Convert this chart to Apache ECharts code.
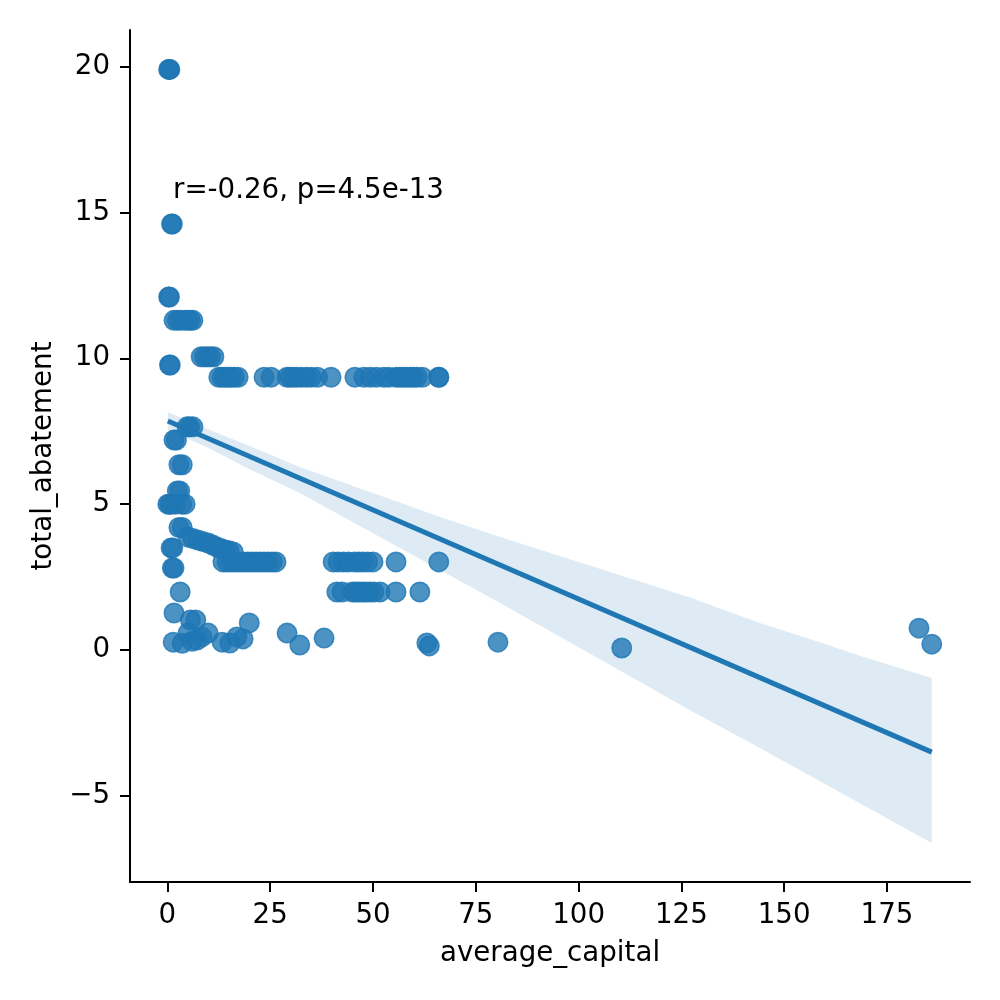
<!DOCTYPE html>
<html>
<head>
<meta charset="utf-8">
<script src="https://cdn.jsdelivr.net/npm/echarts@6/dist/echarts.min.js"></script>
<style>
  html, body { margin: 0; padding: 0; background: #fff; }
  #chart { width: 1000px; height: 1000px; }
</style>
</head>
<body>
<div id="chart"></div>
<script>
// scatter points [average_capital, total_abatement]
var scatterPoints = [
    [0.3, 19.9], [0.45, 19.9], [0.6, 19.9],
    [1.0, 14.6], [1.2, 14.6],
    [0.3, 12.1], [0.5, 12.1],
    [1.6, 11.3], [2.4, 11.3], [3.2, 11.3], [4.2, 11.3], [5.0, 11.3], [5.6, 11.3], [6.2, 11.3],
    [0.5, 9.77], [0.7, 9.77],
    [8.2, 10.05], [9.0, 10.05], [9.8, 10.05], [10.5, 10.05], [11.3, 10.05],
    [12.5, 9.35], [13.3, 9.35], [14.0, 9.35], [14.8, 9.35], [15.5, 9.35], [16.3, 9.35], [17.2, 9.35],
    [23.5, 9.35], [25.2, 9.35], [29.1, 9.35], [29.8, 9.35], [30.6, 9.35], [31.5, 9.35], [32.6, 9.35],
    [33.8, 9.35], [35.0, 9.35], [36.5, 9.35], [39.8, 9.35], [45.6, 9.35], [47.8, 9.35], [49.3, 9.35],
    [50.8, 9.35], [52.6, 9.35], [53.8, 9.35], [55.6, 9.35], [56.5, 9.35], [57.3, 9.35], [58.2, 9.35],
    [59.0, 9.35], [59.8, 9.35], [60.7, 9.35], [62.0, 9.35], [66.0, 9.35], [66.0, 9.35],
    [4.8, 7.65], [5.4, 7.65], [6.2, 7.65],
    [1.6, 7.2], [2.2, 7.2],
    [2.8, 6.35], [3.6, 6.35],
    [2.4, 5.45], [3.0, 5.45],
    [0.1, 5.0], [0.5, 5.0], [1.0, 5.0], [2.0, 5.0], [3.5, 5.0], [4.3, 5.0],
    [2.8, 4.2], [3.6, 4.2],
    [5.0, 3.87], [6.2, 3.82], [7.4, 3.77], [8.6, 3.72], [9.9, 3.67], [11.0, 3.6],
    [12.0, 3.53], [13.0, 3.48], [14.0, 3.43], [15.0, 3.4], [16.0, 3.36],
    [13.5, 3.02], [14.5, 3.02], [15.5, 3.02], [16.5, 3.02], [17.5, 3.02], [18.5, 3.02], [19.5, 3.02],
    [20.5, 3.02], [21.5, 3.02], [22.5, 3.02], [23.5, 3.02], [24.5, 3.02], [25.5, 3.02], [26.4, 3.02],
    [0.9, 3.5], [1.3, 3.5], [1.2, 2.81], [1.6, 2.81],
    [3.1, 1.99], [1.6, 1.27], [5.6, 1.03], [6.9, 1.03], [19.9, 0.93],
    [1.4, 0.27], [3.6, 0.23], [5.0, 0.58], [6.0, 0.3], [7.2, 0.34], [8.4, 0.45], [9.9, 0.58],
    [13.3, 0.27], [15.2, 0.24], [16.9, 0.45], [18.4, 0.38], [29.1, 0.58], [32.2, 0.17],
    [38.1, 0.41], [63.1, 0.24], [63.7, 0.14],
    [40.3, 3.02], [41.5, 3.02], [42.8, 3.02], [44.0, 3.02], [45.5, 3.02], [46.5, 3.02],
    [47.5, 3.02], [48.7, 3.02], [50.0, 3.02], [55.6, 3.02], [66.0, 3.02],
    [41.2, 1.99], [42.5, 1.99], [45.0, 1.99], [45.8, 1.99], [46.6, 1.99], [47.4, 1.99],
    [48.2, 1.99], [49.2, 1.99], [50.2, 1.99], [51.7, 1.99], [55.6, 1.99], [61.4, 1.99],
    [80.4, 0.27], [110.5, 0.07], [182.8, 0.75], [185.9, 0.2]
];

// regression line end points
var lineX = [0.1, 185.9];
var lineY = [7.85, -3.5];

// confidence band
var bandX     = [0.1, 10, 20, 32.2, 45, 55, 66.3, 80.9, 106.9, 127.1, 144.1, 158.7, 168.4, 185.9];
var bandUpper = [8.16, 7.56, 6.99, 6.27, 5.63, 5.13, 4.56, 3.87, 2.71, 1.8, 0.93, 0.27, -0.2, -0.96];
var bandLower = [7.55, 6.92, 6.2, 5.38, 4.39, 3.62, 2.74, 1.61, -0.45, -2.06, -3.36, -4.5, -5.25, -6.61];

var xTicks = [0, 25, 50, 75, 100, 125, 150, 175];
var yTicks = [-5, 0, 5, 10, 15, 20];

var annotation = 'r=-0.26, p=4.5e-13';

var blue = '#1f77b4';
var font = 'DejaVu Sans';
var fs = 27.7;

var myChart = echarts.init(document.getElementById('chart'));

var lineData = lineX.map(function (x, i) { return [x, lineY[i]]; });

var option = {
    backgroundColor: '#fff',
    animation: false,
    grid: { left: 130, right: 30, top: 30, bottom: 118 },
    xAxis: {
        type: 'value',
        min: -9.1,
        max: 195.2,
        name: 'average_capital',
        nameLocation: 'middle',
        nameGap: 58,
        nameTextStyle: { fontFamily: font, fontSize: fs, color: '#000' },
        axisLine: { onZero: false, lineStyle: { color: '#000', width: 2 } },
        axisTick: { show: true, length: 10, customValues: xTicks, lineStyle: { color: '#000', width: 2 } },
        axisLabel: { customValues: xTicks, margin: 20, fontFamily: font, fontSize: fs, color: '#000' },
        splitLine: { show: false }
    },
    yAxis: {
        type: 'value',
        min: -7.95,
        max: 21.25,
        name: 'total_abatement',
        nameLocation: 'middle',
        nameGap: 72,
        nameTextStyle: { fontFamily: font, fontSize: fs, color: '#000' },
        axisLine: { show: true, onZero: false, lineStyle: { color: '#000', width: 2 } },
        axisTick: { show: true, length: 10, customValues: yTicks, lineStyle: { color: '#000', width: 2 } },
        axisLabel: {
            customValues: yTicks, margin: 20, fontFamily: font, fontSize: fs, color: '#000',
            formatter: function (v) { return String(v).replace('-', '\u2212'); }
        },
        splitLine: { show: false }
    },
    series: [
        {
            type: 'scatter',
            data: scatterPoints,
            symbolSize: 19.5,
            itemStyle: { color: blue, opacity: 0.8, borderColor: blue, borderWidth: 1.5 },
            z: 1
        },
        {
            // 置信区间
            type: 'custom',
            data: [0],
            z: 2,
            silent: true,
            renderItem: function (params, api) {
                var pts = [];
                for (var i = 0; i < bandX.length; i++) {
                    pts.push(api.coord([bandX[i], bandUpper[i]]));
                }
                for (var j = bandX.length - 1; j >= 0; j--) {
                    pts.push(api.coord([bandX[j], bandLower[j]]));
                }
                return {
                    type: 'polygon',
                    shape: { points: pts },
                    style: { fill: blue, opacity: 0.15 }
                };
            }
        },
        {
            type: 'line',
            data: lineData,
            symbol: 'none',
            lineStyle: { color: blue, width: 5 },
            z: 3
        }
    ],
    graphic: [
        {
            type: 'text',
            x: 173,
            y: 191,
            style: { text: annotation, fontFamily: font, fontSize: fs, fill: '#000', verticalAlign: 'middle' }
        }
    ]
};

myChart.setOption(option, true);
</script>
</body>
</html>
